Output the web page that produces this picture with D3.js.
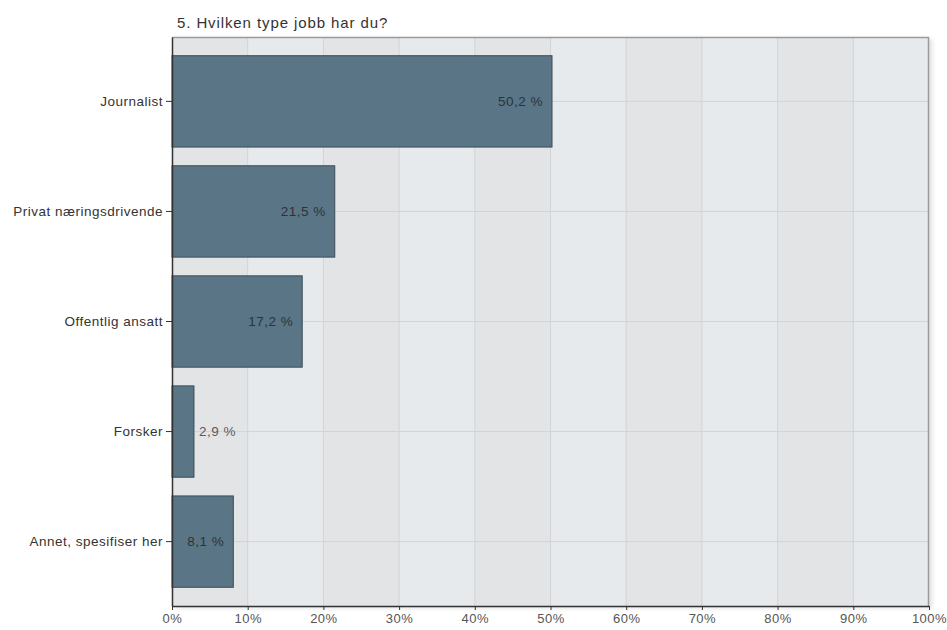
<!DOCTYPE html>
<html>
<head>
<meta charset="utf-8">
<script src="https://cdn.jsdelivr.net/npm/d3@7"></script>
<style>
  body { margin: 0; background: #fff; }
  text { font-family: "Liberation Sans", Arial, sans-serif; letter-spacing: 0.5px; }
</style>
</head>
<body>
<div id="chart"></div>
<script>
// Data
const categories = ["Journalist", "Privat næringsdrivende", "Offentlig ansatt", "Forsker", "Annet, spesifiser her"];
const values = [50.2, 21.5, 17.2, 2.9, 8.1];
const valueLabels = ["50,2 %", "21,5 %", "17,2 %", "2,9 %", "8,1 %"];
const xTicks = [0, 10, 20, 30, 40, 50, 60, 70, 80, 90, 100];
const title = "5. Hvilken type jobb har du?";

const width = 947, height = 630;
const margin = { top: 37, right: 18, bottom: 24, left: 172 };
const innerW = width - margin.left - margin.right;
const innerH = height - margin.top - margin.bottom;

const svg = d3.select("#chart").append("svg")
    .attr("width", width)
    .attr("height", height);

const defs = svg.append("defs");
const shadow = defs.append("filter").attr("id", "shadow")
    .attr("x", "-5%").attr("y", "-5%").attr("width", "110%").attr("height", "110%");
shadow.append("feDropShadow")
    .attr("dx", 3).attr("dy", 2).attr("stdDeviation", 2)
    .attr("flood-color", "#000").attr("flood-opacity", 0.12);

const x = d3.scaleLinear().domain([0, 100]).range([0, innerW]);
const y = d3.scaleBand().domain(categories).range([0, innerH]).paddingInner(0.17).paddingOuter(0.17);

const g = svg.append("g").attr("transform", `translate(${margin.left},${margin.top})`);

// plot background
g.append("rect")
    .attr("width", innerW).attr("height", innerH)
    .attr("fill", "#e7eaed")
    .attr("filter", "url(#shadow)");

// alternating column bands
g.selectAll("rect.band")
    .data(xTicks.slice(0, -1).filter((d, i) => i % 2 === 0))
    .enter().append("rect")
    .attr("class", "band")
    .attr("x", d => x(d))
    .attr("width", d => x(d + 10) - x(d))
    .attr("height", innerH)
    .attr("fill", "#e3e4e6");

// vertical grid
g.selectAll("line.vgrid")
    .data(xTicks.slice(1, -1))
    .enter().append("line")
    .attr("x1", d => x(d)).attr("x2", d => x(d))
    .attr("y1", 0).attr("y2", innerH)
    .attr("stroke", "#d2d3d5").attr("stroke-width", 1);

// horizontal grid at category centres
g.selectAll("line.hgrid")
    .data(categories)
    .enter().append("line")
    .attr("x1", 0).attr("x2", innerW)
    .attr("y1", d => y(d) + y.bandwidth() / 2)
    .attr("y2", d => y(d) + y.bandwidth() / 2)
    .attr("stroke", "#d2d3d5").attr("stroke-width", 1);

// top and right border
g.append("path")
    .attr("d", `M0,0.5H${innerW - 0.5}V${innerH}`)
    .attr("fill", "none")
    .attr("stroke", "#9a9b9d").attr("stroke-width", 1.5);

// bars
g.selectAll("rect.bar")
    .data(values)
    .enter().append("rect")
    .attr("class", "bar")
    .attr("x", 0)
    .attr("y", (d, i) => y(categories[i]))
    .attr("width", d => x(d))
    .attr("height", y.bandwidth())
    .attr("fill", "#5a7585")
    .attr("stroke", "#3b4d58")
    .attr("stroke-width", 1);

// value labels: inside for wide bars, outside for narrow ones
g.selectAll("text.val")
    .data(values)
    .enter().append("text")
    .attr("class", "val")
    .attr("x", d => d > 5 ? x(d) - 9 : x(d) + 5)
    .attr("y", (d, i) => y(categories[i]) + y.bandwidth() / 2)
    .attr("dy", "0.35em")
    .attr("text-anchor", d => d > 5 ? "end" : "start")
    .attr("fill", d => d > 5 ? "#2b3338" : "#5a5d60")
    .style("font-size", "13.5px")
    .text((d, i) => valueLabels[i]);

// axes
const yAxis = g.append("g")
    .call(d3.axisLeft(y).tickSize(6).tickSizeOuter(0));
yAxis.select(".domain").attr("stroke", "#333").attr("stroke-width", 1.5);
yAxis.selectAll(".tick line").attr("stroke", "#333");
yAxis.selectAll("text").attr("fill", "#333").style("font-size", "13.5px").attr("x", -9);

const xAxis = g.append("g")
    .attr("transform", `translate(0,${innerH})`)
    .call(d3.axisBottom(x).tickValues(xTicks).tickFormat(d => d + "%").tickSize(4).tickSizeOuter(0));
xAxis.select(".domain").attr("stroke", "#333").attr("stroke-width", 1.5);
xAxis.selectAll(".tick line").attr("stroke", "#333");
xAxis.selectAll("text").attr("fill", "#555").style("font-size", "13px").attr("y", 8);

// title
svg.append("text")
    .attr("x", 177)
    .attr("y", 28)
    .attr("fill", "#333")
    .style("font-size", "15px")
    .style("letter-spacing", "0.9px")
    .text(title);
</script>
</body>
</html>
